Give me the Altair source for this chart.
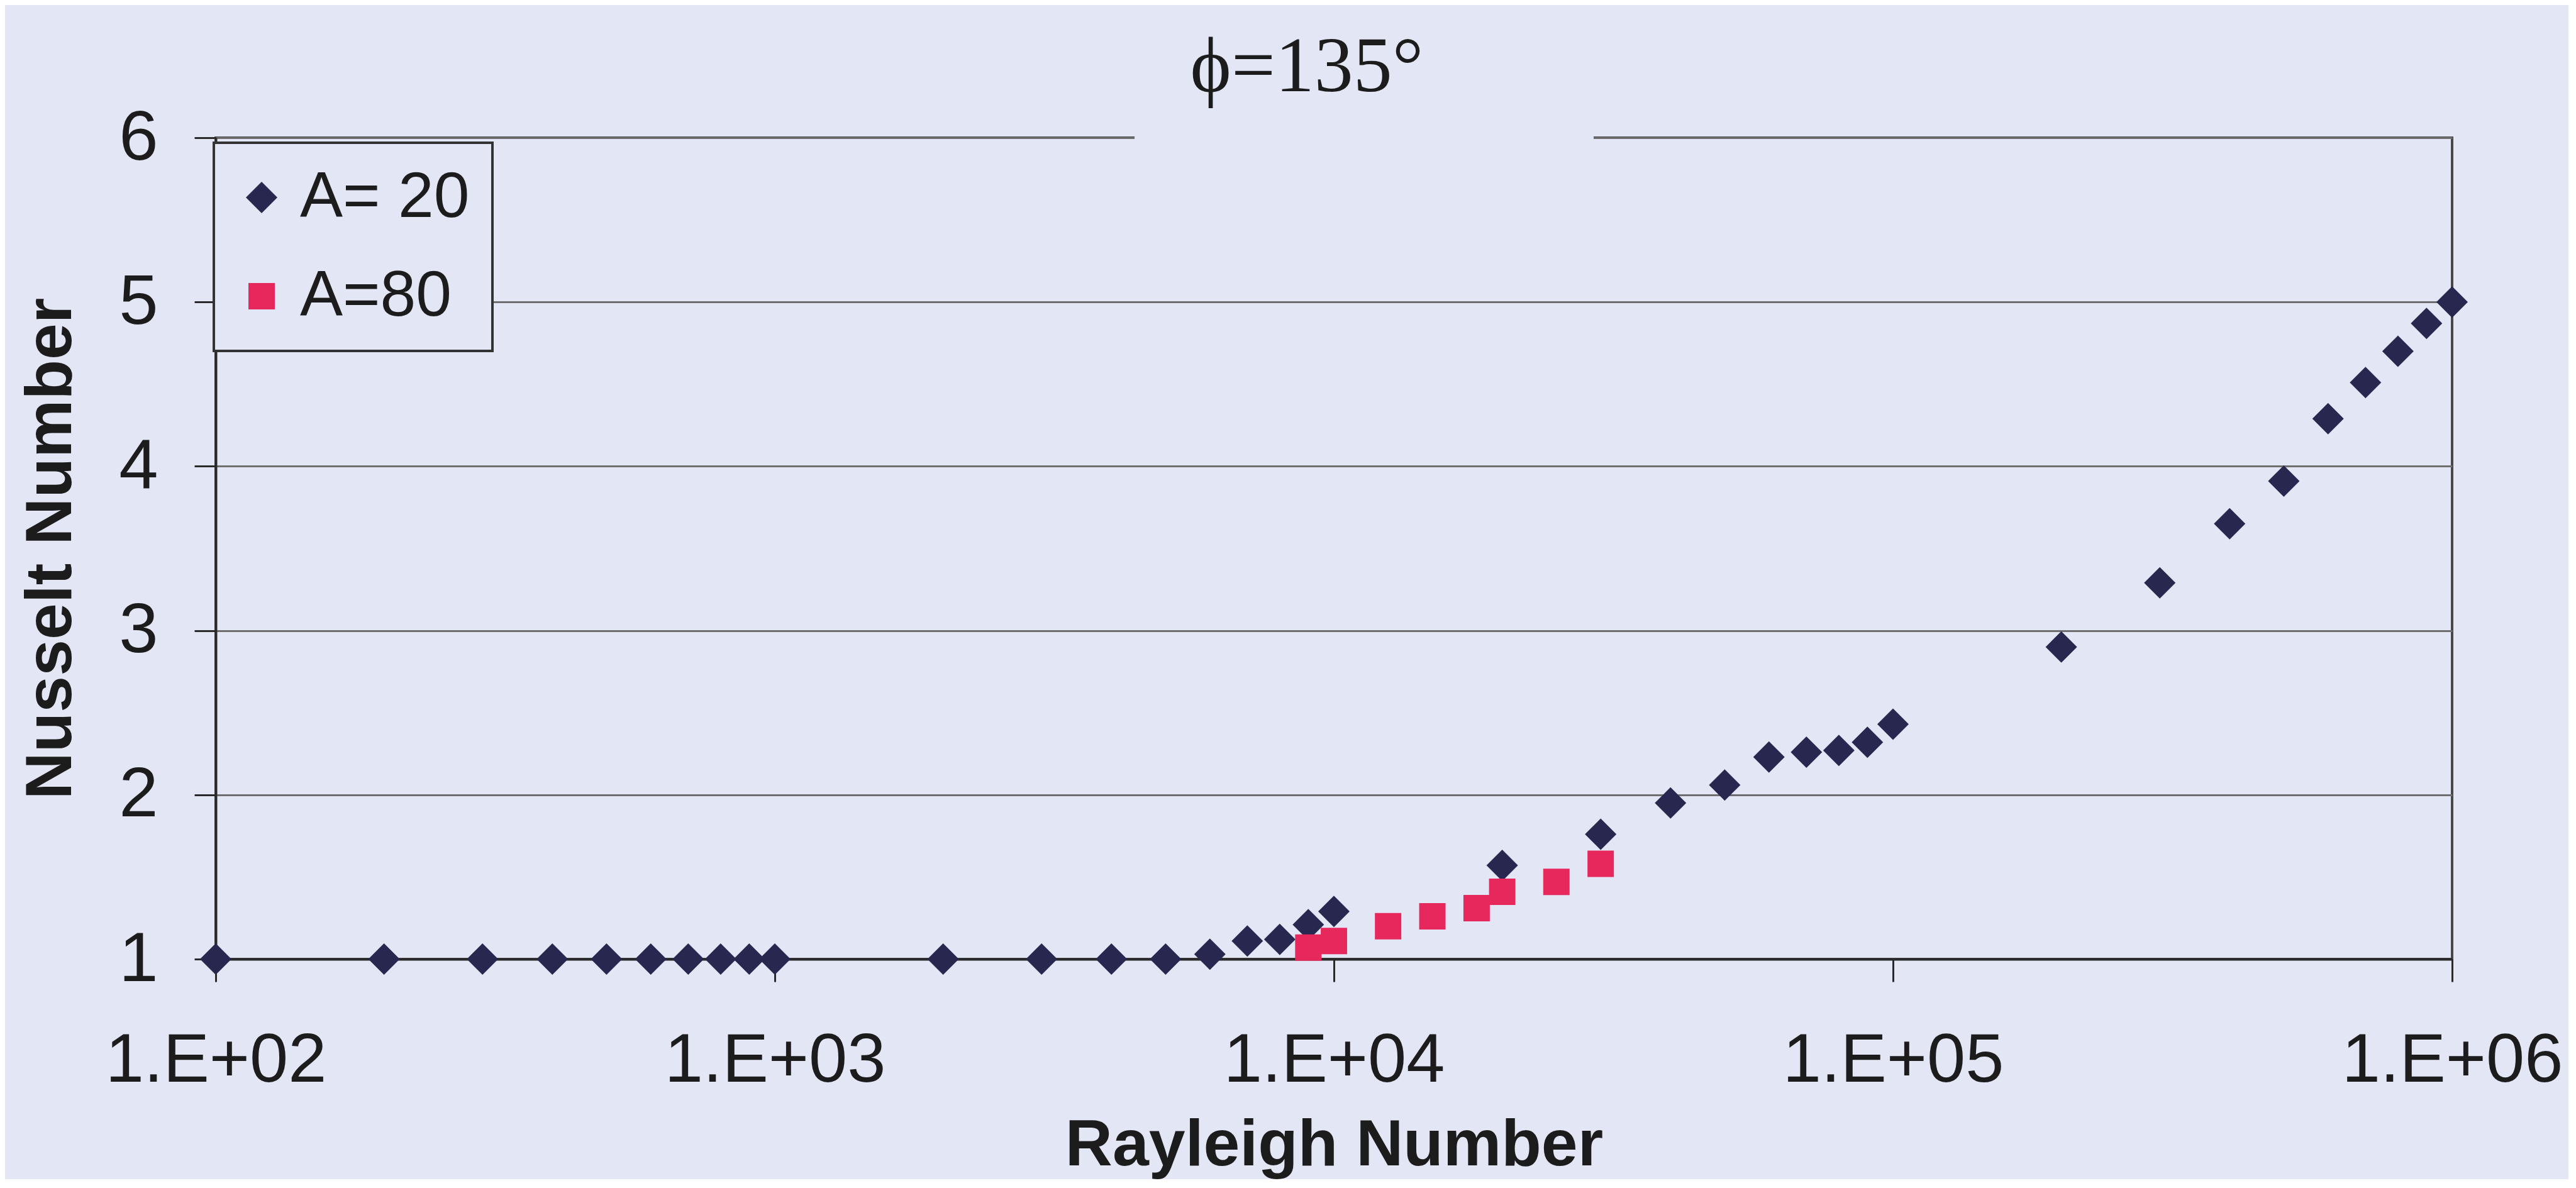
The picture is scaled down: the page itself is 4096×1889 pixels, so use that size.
import altair as alt
import pandas as pd

# ---- data ----
ra_a20 = [100, 200, 300, 400, 500, 600, 700, 800, 900, 1000,
          2000, 3000, 4000, 5000, 6000, 7000, 8000, 9000, 10000,
          20000, 30000, 40000, 50000, 60000, 70000, 80000, 90000, 100000,
          200000, 300000, 400000, 500000, 600000, 700000, 800000, 900000, 1000000]
nu_a20 = [1.00, 1.00, 1.00, 1.00, 1.00, 1.00, 1.00, 1.00, 1.00, 1.00,
          1.00, 1.00, 1.00, 1.00, 1.03, 1.11, 1.12, 1.21, 1.29,
          1.57, 1.76, 1.95, 2.06, 2.23, 2.26, 2.27, 2.32, 2.43,
          2.90, 3.29, 3.65, 3.91, 4.29, 4.51, 4.70, 4.87, 5.00]

ra_a80 = [9000, 10000, 12500, 15000, 18000, 20000, 25000, 30000]
nu_a80 = [1.07, 1.11, 1.20, 1.26, 1.31, 1.41, 1.47, 1.58]

series_names = ["A= 20", "A=80"]
series_colors = ["#27274F", "#E6285C"]
series_shapes = ["diamond", "square"]
series_sizes = [2500, 1760]

x_tick_values = [100, 1000, 10000, 100000, 1000000]
x_tick_labels = ["1.E+02", "1.E+03", "1.E+04", "1.E+05", "1.E+06"]
y_tick_values = [1, 2, 3, 4, 5, 6]

title_text = "\u03d5=135\u00b0"
x_title = "Rayleigh Number"
y_title = "Nusselt Number"

BG = "#E3E6F5"
INK = "#1C1C1C"

df = pd.concat([
    pd.DataFrame({"Ra": ra_a20, "Nu": nu_a20, "series": series_names[0]}),
    pd.DataFrame({"Ra": ra_a80, "Nu": nu_a80, "series": series_names[1]}),
], ignore_index=True)

label_expr = "[" + ",".join(f"'{s}'" for s in x_tick_labels) + "][round(log(datum.value)/LN10) - 2]"

W, H = 3556, 1306

points = alt.Chart(df).mark_point(filled=True, opacity=1, strokeWidth=0).encode(
    x=alt.X("Ra:Q",
            scale=alt.Scale(type="log", domain=[100, 1000000], nice=False),
            axis=alt.Axis(values=x_tick_values, labelExpr=label_expr, grid=False,
                          domainColor="#2A2A2A", domainWidth=4,
                          tickColor="#2A2A2A", tickWidth=3, tickSize=36,
                          labelPadding=71, labelFontSize=110, labelFont="Liberation Sans",
                          labelColor=INK, labelFlush=False, labelOverlap=False, labelBound=False,
                          labelLimit=1000,
                          title=x_title, titleFont="Liberation Sans", titleFontSize=104,
                          titleFontWeight="bold", titleColor=INK,
                          titleY=327, titleBaseline="alphabetic")),
    y=alt.Y("Nu:Q",
            scale=alt.Scale(domain=[1, 6], nice=False, zero=False),
            axis=alt.Axis(values=y_tick_values, format="d", grid=True,
                          gridColor="#6E6E6E", gridWidth=3,
                          domainColor="#2A2A2A", domainWidth=4,
                          tickColor="#2A2A2A", tickWidth=3, tickSize=34,
                          labelPadding=58, labelFontSize=112, labelFont="Liberation Sans",
                          labelColor=INK, labelFlush=False, labelOverlap=False, labelBound=False,
                          labelLimit=1000,
                          title=y_title, titleFont="Liberation Sans", titleFontSize=104,
                          titleFontWeight="bold", titleColor=INK,
                          titleAngle=270, titleX=-231, titleY=H / 2,
                          titleAlign="center", titleBaseline="alphabetic")),
    color=alt.Color("series:N", scale=alt.Scale(domain=series_names, range=series_colors),
                    legend=alt.Legend(title=None, orient="none", legendX=-3, legendY=8,
                                      padding=36, rowPadding=55, symbolOffset=-11, labelOffset=10,
                                      labelFontSize=102, labelFont="Liberation Sans",
                                      labelColor=INK, labelLimit=1000,
                                      strokeColor="#333333", fillColor=BG,
                                      symbolStrokeWidth=0, symbolOpacity=1)),
    shape=alt.Shape("series:N", scale=alt.Scale(domain=series_names, range=series_shapes)),
    size=alt.Size("series:N", scale=alt.Scale(domain=series_names, range=series_sizes)),
)

# background patch behind the title (interrupts the top gridline, as in the reference)
gap = alt.Chart(pd.DataFrame({"k": [0]})).mark_rect(color=BG).encode(
    x=alt.value(1461), x2=alt.value(2191), y=alt.value(-12), y2=alt.value(12)
)

chart = alt.layer(points, gap).properties(
    width=W, height=H,
    autosize=alt.AutoSizeParams(type="none"),
    padding={"left": 335, "top": 211, "right": 185, "bottom": 350},
    title=alt.TitleParams(text=title_text, font="Liberation Serif", fontSize=124,
                          fontWeight="normal", color=INK, anchor="middle", frame="group",
                          dx=-43, dy=146, offset=40, baseline="alphabetic"),
).configure(background=BG).configure_view(stroke="#484848", strokeWidth=4).configure_legend(strokeWidth=4)

chart.save("out.html", embed_options={"renderer": "svg", "actions": False})
